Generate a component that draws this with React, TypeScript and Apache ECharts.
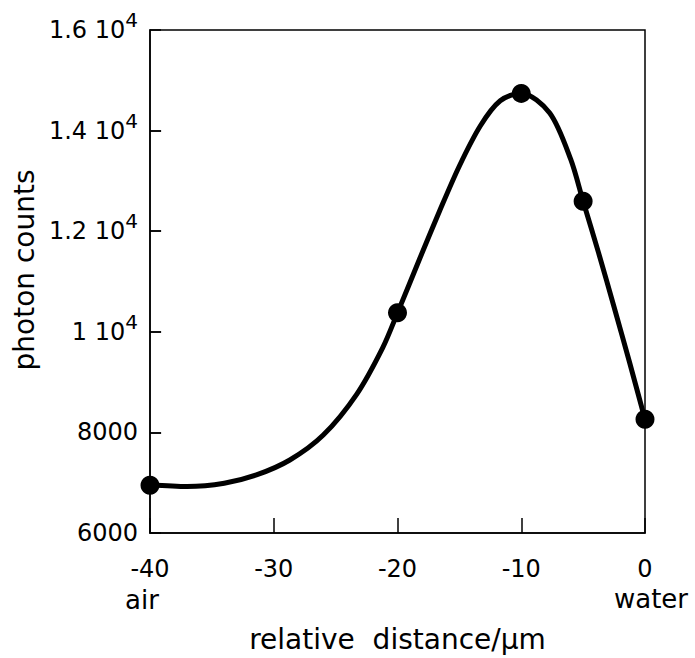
import React, { useEffect, useRef } from "react";
import * as echarts from "echarts";

// Smooth fitted curve: [relative distance (µm), photon counts]
const curveX = [-40, -37, -34, -31.4, -28.7, -26, -23.3, -21.2, -20, -18.2, -16.6, -15, -13.3, -11.7, -10, -7.7, -6, -5, -3.75, -2.5, -1.25, 0];
const curveY = [6960, 6925, 6990, 7154, 7451, 7947, 8757, 9681, 10377, 11457, 12401, 13297, 14096, 14592, 14745, 14350, 13426, 12594, 11569, 10494, 9394, 8260];

// Measured points
const pointX = [-40, -20, -10, -5, 0];
const pointY = [6950, 10377, 14740, 12594, 8260];

const xTicks = [-40, -30, -20, -10, 0];
const yInnerTicks = [8000, 10000, 12000, 14000];
const yTickLabels: Record<number, string> = {
  6000: "6000",
  8000: "8000",
  10000: "1 10{s|4}",
  12000: "1.2 10{s|4}",
  14000: "1.4 10{s|4}",
  16000: "1.6 10{s|4}",
};

const FONT = "DejaVu Sans";
const X_MIN = -40;
const TICK_SPAN = 0.9; // tick length in x units (~11px)

export default function App() {
  const ref = useRef<HTMLDivElement>(null);
  useEffect(() => {
    if (!ref.current) return;
    const chart = echarts.init(ref.current, undefined, { renderer: "svg" });
    chart.setOption({
      animation: false,
      backgroundColor: "#fff",
      grid: {
        left: 150,
        right: 50,
        top: 30,
        bottom: 123,
        show: true,
        borderColor: "#000",
        borderWidth: 1.5,
        backgroundColor: "transparent",
      },
      xAxis: {
        type: "value",
        min: -40,
        max: 0,
        interval: 10,
        name: "relative  distance/\u03bcm",
        nameLocation: "middle",
        nameGap: 92,
        nameTextStyle: { fontFamily: FONT, fontSize: 28, color: "#000" },
        axisLine: { lineStyle: { color: "#000", width: 1.5 } },
        axisTick: { inside: true, length: 15, lineStyle: { color: "#000", width: 1.5 } },
        axisLabel: {
          margin: 24,
          fontFamily: FONT,
          fontSize: 24,
          color: "#000",
          formatter: (v: number) => (xTicks.includes(v) ? String(v) : ""),
        },
        splitLine: { show: false },
      },
      yAxis: {
        type: "value",
        min: 6000,
        max: 16000,
        interval: 2000,
        axisLine: { show: true, onZero: false, lineStyle: { color: "#000", width: 1.5 } },
        axisTick: { show: true, inside: true, length: 11, lineStyle: { color: "#000", width: 1.5 } },
        axisLabel: {
          margin: 12,
          fontFamily: FONT,
          fontSize: 24,
          color: "#000",
          lineHeight: 40,
          formatter: (v: number) => yTickLabels[v] ?? String(v),
          rich: {
            s: { fontFamily: FONT, fontSize: 20, color: "#000", lineHeight: 20, verticalAlign: "top" },
          },
        },
        splitLine: { show: false },
      },
      graphic: [
        {
          type: "text",
          x: 24,
          y: 270,
          rotation: Math.PI / 2,
          style: {
            text: "photon counts",
            fontFamily: FONT,
            fontSize: 28,
            fill: "#000",
            align: "center",
            verticalAlign: "middle",
          },
        },
        {
          type: "text",
          x: 142,
          y: 600,
          style: { text: "air", fontFamily: FONT, fontSize: 26, fill: "#000", align: "center", verticalAlign: "middle" },
        },
        {
          type: "text",
          x: 651,
          y: 599,
          style: { text: "water", fontFamily: FONT, fontSize: 26, fill: "#000", align: "center", verticalAlign: "middle" },
        },
      ],
      series: [
        {
          type: "line",
          data: curveX.map((x, i) => [x, curveY[i]]),
          smooth: 0.3,
          symbol: "none",
          clip: false,
          lineStyle: { color: "#000", width: 5 },
          silent: true,
          z: 2,
          markLine: {
            silent: true,
            symbol: ["none", "none"],
            label: { show: false },
            lineStyle: { color: "#000", width: 1.5, type: "solid" },
            data: yInnerTicks.map((v) => [
              { coord: [X_MIN, v] },
              { coord: [X_MIN + TICK_SPAN, v] },
            ]),
          },
        },
        {
          type: "scatter",
          data: pointX.map((x, i) => [x, pointY[i]]),
          symbol: "circle",
          symbolSize: 19,
          clip: false,
          itemStyle: { color: "#000", opacity: 1 },
          z: 3,
        },
      ],
    });
    return () => chart.dispose();
  }, []);
  return <div ref={ref} style={{ position: "absolute", left: 0, top: 0, width: 695, height: 658 }} />;
}
